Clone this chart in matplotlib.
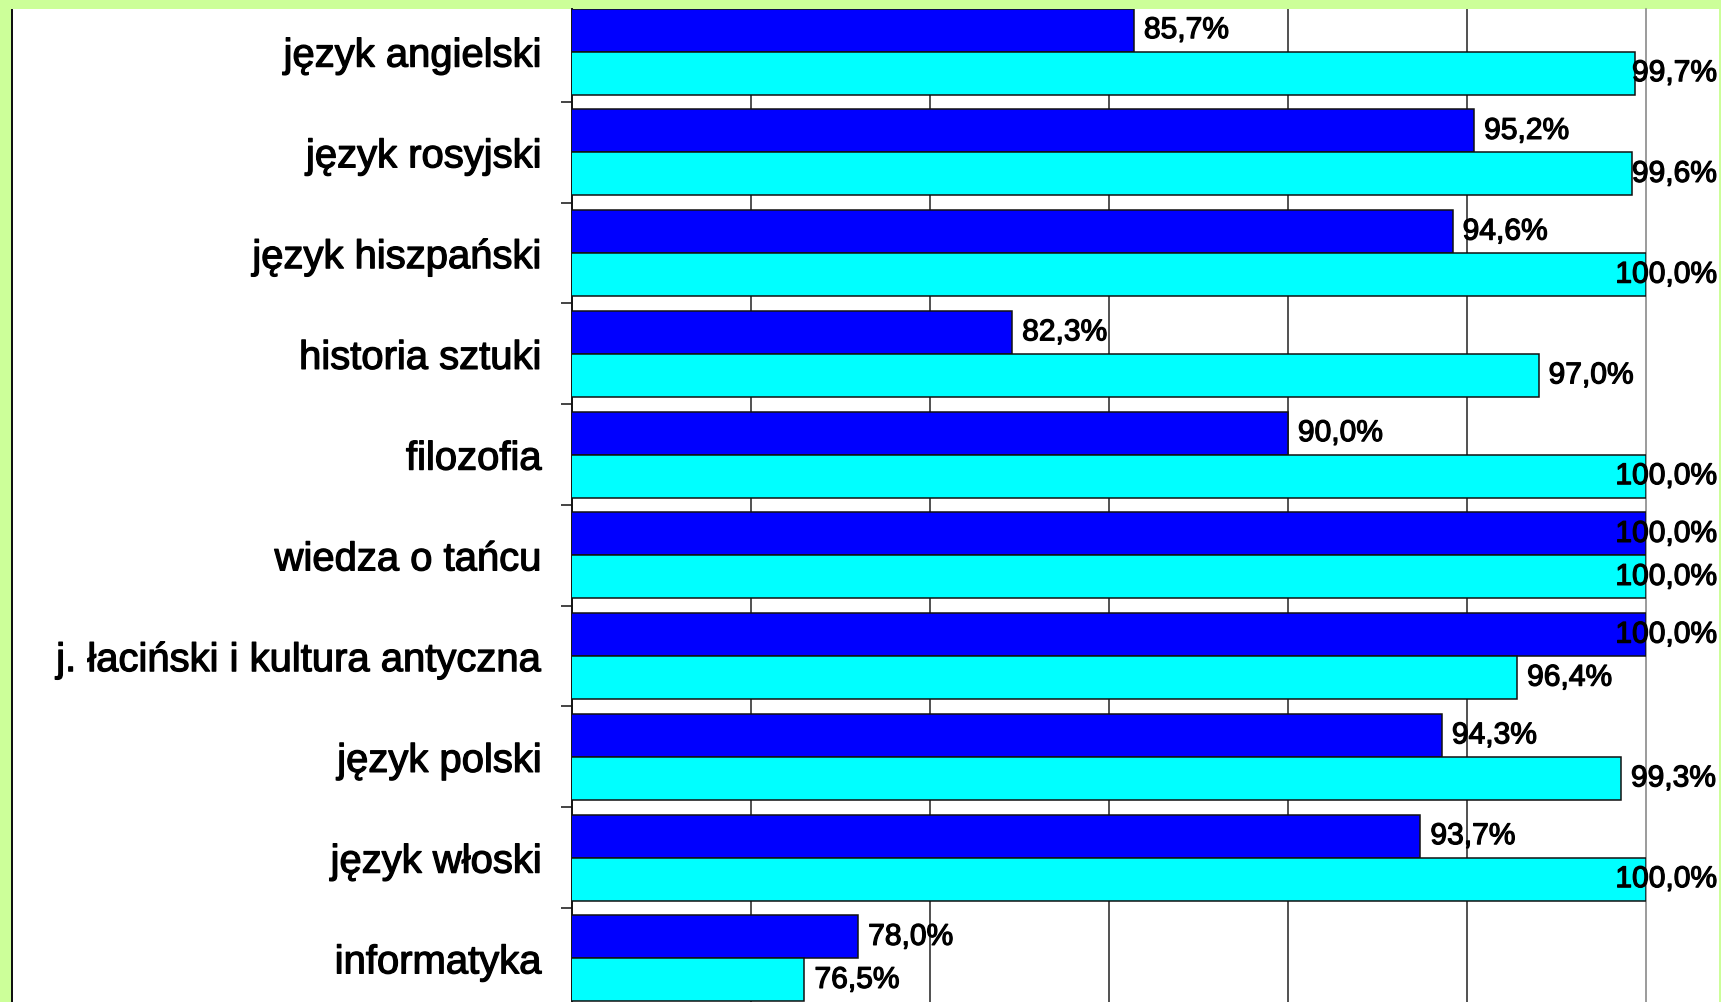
import numpy as np
import matplotlib
matplotlib.use("Agg")
import matplotlib.pyplot as plt
import matplotlib.patheffects as pe
from matplotlib.patches import Rectangle
from matplotlib.ticker import FixedLocator, NullFormatter

categories = [
    "język angielski",
    "język rosyjski",
    "język hiszpański",
    "historia sztuki",
    "filozofia",
    "wiedza o tańcu",
    "j. łaciński i kultura antyczna",
    "język polski",
    "język włoski",
    "informatyka",
]
dark_values = [85.7, 95.2, 94.6, 82.3, 90.0, 100.0, 100.0, 94.3, 93.7, 78.0]
light_values = [99.7, 99.6, 100.0, 97.0, 100.0, 100.0, 96.4, 99.3, 100.0, 76.5]
grid_values = [75, 80, 85, 90, 95]

W, H = 1721, 1003
DPI = 100
BAR_H = 0.427
LABEL_LIMIT_PX = 1717  # labels get pushed left to stay inside this
HEAVY = [pe.withStroke(linewidth=0.9, foreground="black")]


def fmt(v):
    return f"{v:.1f}%".replace(".", ",")


def add_frame(fig):
    # light green border with white chart area, black line on the left
    fig.patch.set_facecolor("#CCFF99")
    fig.patches.append(Rectangle((11 / W, 0), (1719 - 11) / W, (H - 10) / H,
                                 transform=fig.transFigure, facecolor="white",
                                 edgecolor="none", zorder=-2))
    fig.patches.append(Rectangle((11 / W, 0), 2 / W, (H - 10) / H,
                                 transform=fig.transFigure, facecolor="#111111",
                                 edgecolor="none", zorder=-1))


def place_value_labels(fig, ax, values, ypos):
    texts = []
    for v, y in zip(values, ypos):
        x_px = ax.transData.transform((v, y))[0] + 10
        x_data = ax.transData.inverted().transform((x_px, 0))[0]
        t = ax.text(x_data, y, fmt(v), ha="left", va="center",
                    fontsize=21.6, family="Liberation Sans", color="black",
                    clip_on=False, zorder=5, path_effects=HEAVY)
        texts.append(t)
    fig.canvas.draw()
    renderer = fig.canvas.get_renderer()
    for t in texts:
        bb = t.get_window_extent(renderer)
        if bb.x1 > LABEL_LIMIT_PX:
            x_data = ax.transData.inverted().transform((LABEL_LIMIT_PX, 0))[0]
            t.set_x(x_data)
            t.set_ha("right")


def main():
    fig = plt.figure(figsize=(W / DPI, H / DPI), dpi=DPI)
    add_frame(fig)

    ax_left = 571.7 / W
    ax_w = (1646 - 571.7) / W
    ax = fig.add_axes([ax_left, 0, ax_w, (H - 10) / H])
    ax.set_facecolor("none")
    ax.set_zorder(2)

    y = np.arange(len(categories))
    ax.barh(y - BAR_H / 2, dark_values, height=BAR_H, left=0,
            color="#0000FF", edgecolor="#111111", linewidth=1.1, zorder=3)
    ax.barh(y + BAR_H / 2, light_values, height=BAR_H, left=0,
            color="#00FFFF", edgecolor="#111111", linewidth=1.1, zorder=3)

    ax.set_xlim(70, 100)
    ax.set_ylim(9.433, -0.423)

    for g in grid_values:
        ax.axvline(g, color="#222222", linewidth=1.1, zorder=1)

    ax.spines["top"].set_visible(False)
    ax.spines["bottom"].set_visible(False)
    ax.spines["left"].set_color("#111111")
    ax.spines["left"].set_linewidth(1.4)
    ax.spines["right"].set_color("#808080")
    ax.spines["right"].set_linewidth(1.1)

    ax.set_xticks([])
    ax.set_yticks(y)
    ax.set_yticklabels(categories, fontsize=28.8, family="Liberation Sans")
    for lab in ax.get_yticklabels():
        lab.set_path_effects(HEAVY)
    ax.tick_params(axis="y", which="major", length=0, pad=21.6)
    ax.yaxis.set_minor_locator(FixedLocator(np.arange(len(categories) - 1) + 0.5))
    ax.yaxis.set_minor_formatter(NullFormatter())
    ax.tick_params(axis="y", which="minor", length=7.9, width=1.1,
                   direction="out", color="#111111")

    place_value_labels(fig, ax, dark_values, y - BAR_H / 2)
    place_value_labels(fig, ax, light_values, y + BAR_H / 2)

    fig.savefig("out.png", dpi=DPI, facecolor=fig.get_facecolor())
    plt.close(fig)


if __name__ == "__main__":
    main()
